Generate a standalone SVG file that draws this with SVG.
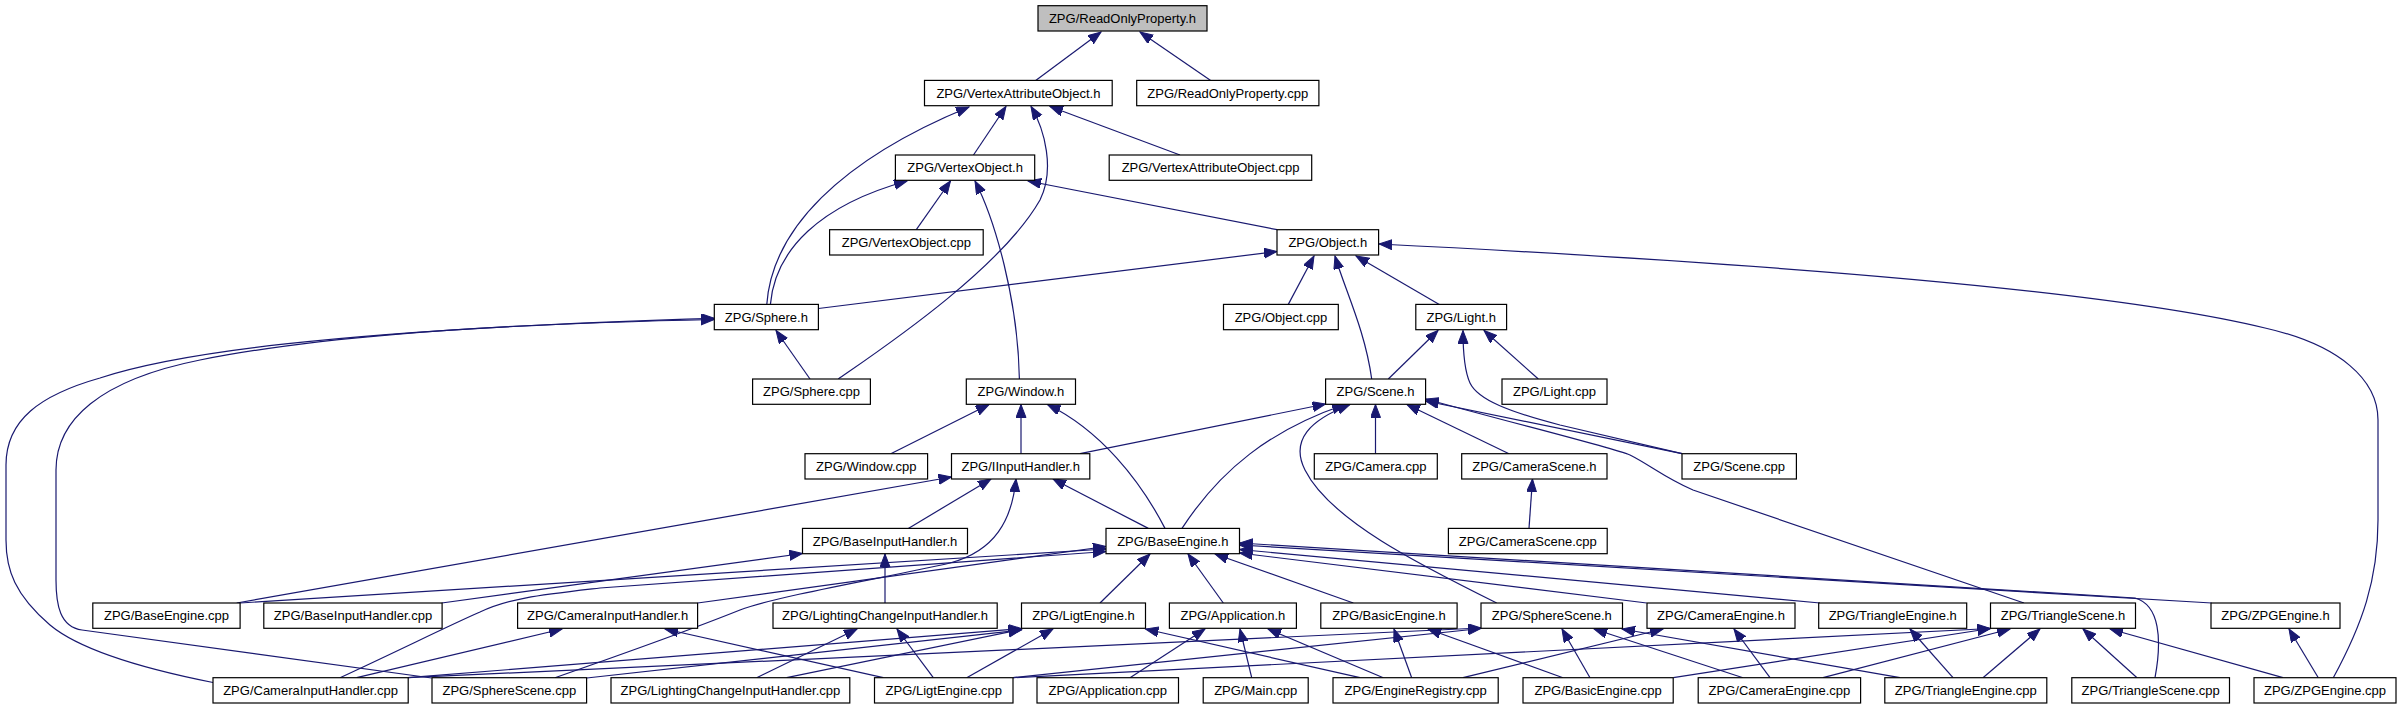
<svg xmlns="http://www.w3.org/2000/svg" width="2403" height="709" viewBox="0 0 2403 709">
<defs>
<marker id="a" markerUnits="userSpaceOnUse" markerWidth="14" markerHeight="11" refX="13" refY="5" orient="auto"><path d="M0,0 L13,5 L0,10 z" fill="#191970" stroke="#191970" stroke-width="1"/></marker>
<style>
rect{fill:#fff;stroke:#000;stroke-width:1.2}
#n_rop rect{fill:#bfbfbf}
text{font-family:"Liberation Sans",Arial,sans-serif;font-size:13px;text-anchor:middle;fill:#000}
#edges path{fill:none;stroke:#191970;stroke-width:1.2;marker-end:url(#a)}
</style>
</defs>
<rect x="0" y="0" width="2403" height="709" style="fill:#fff;stroke:none"/>
<g id="edges">
<path d="M1035.7,80.4 L1101,32"/>
<path d="M1210.7,80.4 L1140,32"/>
<path d="M973.5,155 L1006,106.5"/>
<path d="M1180,155 L1050,106.5"/>
<path d="M766.8,304.4 C772,230 840,160 969,107"/>
<path d="M838.3,379 C880,350 1000,270 1040,200 C1055,170 1045,130 1031,106.5"/>
<path d="M916.3,229.7 L950.5,181"/>
<path d="M770.4,304.4 C775,250 820,205 907,181"/>
<path d="M1019.4,379 C1018,300 995,220 975,181"/>
<path d="M1277,229.7 L1028,181"/>
<path d="M1288.3,304.4 L1314,256"/>
<path d="M1439.3,304.4 L1356,256"/>
<path d="M1371.7,379 C1365,330 1345,290 1335,256"/>
<path d="M818.4,308.5 L1277,251.5"/>
<path d="M2333.3,677.7 C2362,625 2378,580 2378,520 L2378,420 C2378,380 2340,345 2265,328 C2150,300 1900,270 1379,244"/>
<path d="M810,379 L776,330.5"/>
<path d="M213,682.5 C140,668 80,650 50,625 C15,595 6,570 6,540 L6,465 C6,420 40,395 100,378 C170,355 320,330 714.3,318.3"/>
<path d="M431.7,678 L82,630 C60,627 56,605 56,580 L56,470 C56,420 100,380 200,360 C300,340 450,325 714.3,319.5"/>
<path d="M1388.3,379 L1438,330.5"/>
<path d="M1538.3,379 L1484,330.5"/>
<path d="M1682,453.7 L1560,425 C1510,412 1478,400 1470,383 C1464,370 1463,350 1463,330.5"/>
<path d="M890.8,453.7 L989,404.5"/>
<path d="M1021,453.7 L1021,404.5"/>
<path d="M1165,528.4 C1140,480 1100,430 1047.5,404.5"/>
<path d="M1080,453.7 L1325.6,404"/>
<path d="M1182,528.4 C1220,470 1270,430 1345,404.5"/>
<path d="M1496.7,603 C1420,565 1330,520 1305,470 C1290,440 1310,420 1350,404.5"/>
<path d="M1375.5,453.7 L1375.5,404.5"/>
<path d="M1509,453.7 L1407,404.5"/>
<path d="M1682,453.7 L1425.6,401"/>
<path d="M2024,603 L1693,490 C1665,478 1650,465 1630,455 C1610,447 1520,425 1425.6,399"/>
<path d="M1529,528.4 L1532.5,479"/>
<path d="M908.3,528.4 L991,479"/>
<path d="M1148.3,528.4 L1053,479"/>
<path d="M236.7,603 L951.5,477"/>
<path d="M555,677.7 C620,655 690,630 740,610 C780,595 900,575 950,563 C995,551 1012,520 1016,479"/>
<path d="M441.7,603 L802.5,553.5"/>
<path d="M885,603 L885,554"/>
<path d="M240,603 L1106,549"/>
<path d="M340,677.7 C400,650 450,625 480,612 C510,598 540,595 600,588 L1106,551.5"/>
<path d="M697.6,603 L1106,546.5"/>
<path d="M1100,603 L1150,554"/>
<path d="M1223.3,603 L1188,554"/>
<path d="M1353.3,603 L1215,554"/>
<path d="M1646.7,603 L1239.5,553"/>
<path d="M1820,603 L1239.5,549.5"/>
<path d="M2211.7,603 L1239.5,545"/>
<path d="M2155,677.7 C2162,640 2160,605 2135,598 L1239.5,543"/>
<path d="M966.7,677.7 L1053,629"/>
<path d="M786.7,677.7 L1021.5,629.5"/>
<path d="M408,677.7 L1021.5,628.5"/>
<path d="M586.7,678 L1021.5,630"/>
<path d="M1360,677.7 L1145.5,629"/>
<path d="M356.7,677.7 L562,629"/>
<path d="M883.3,677.7 L665,629"/>
<path d="M756.7,677.7 L857,629"/>
<path d="M933.3,677.7 L897,629"/>
<path d="M1130,677.7 L1205,629"/>
<path d="M1251.7,677.7 L1240,629"/>
<path d="M1383.3,677.7 L1268,629"/>
<path d="M1411.7,677.7 L1394,629"/>
<path d="M1563,677.7 L1428,629"/>
<path d="M1590,677.7 L1562,629"/>
<path d="M1743,677.7 L1594,629"/>
<path d="M1900,677.7 L1622,629"/>
<path d="M1013,677.7 L1481,628.5"/>
<path d="M408,677.7 L1481,628"/>
<path d="M1463,677.7 L1663,629"/>
<path d="M1770,677.7 L1734,629"/>
<path d="M1953,677.7 L1910,629"/>
<path d="M1673.3,677.7 L1990.5,628.5"/>
<path d="M1013,677.7 L1990.5,628.5"/>
<path d="M1823,677.7 L2010,629"/>
<path d="M1983,677.7 L2040,629"/>
<path d="M2137,677.7 L2083,629"/>
<path d="M2283,677.7 L2110,629"/>
<path d="M2318.3,677.7 L2289,629"/>
</g>
<g id="n_rop"><rect x="1038" y="5.7" width="169" height="25.3"/><text x="1122.5" y="23">ZPG/ReadOnlyProperty.h</text></g>
<g id="n_vaoh"><rect x="924.5" y="80.4" width="187.7" height="25.3"/><text x="1018.4" y="97.7">ZPG/VertexAttributeObject.h</text></g>
<g id="n_ropcpp"><rect x="1136.7" y="80.4" width="182.2" height="25.3"/><text x="1227.8" y="97.7">ZPG/ReadOnlyProperty.cpp</text></g>
<g id="n_voh"><rect x="895.4" y="155" width="139.3" height="25.3"/><text x="965.1" y="172.3">ZPG/VertexObject.h</text></g>
<g id="n_vaocpp"><rect x="1109.2" y="155" width="202.5" height="25.3"/><text x="1210.5" y="172.3">ZPG/VertexAttributeObject.cpp</text></g>
<g id="n_vocpp"><rect x="829.6" y="229.7" width="153.6" height="25.3"/><text x="906.4" y="247">ZPG/VertexObject.cpp</text></g>
<g id="n_objh"><rect x="1277" y="229.7" width="101.6" height="25.3"/><text x="1327.8" y="247">ZPG/Object.h</text></g>
<g id="n_sphh"><rect x="714.3" y="304.4" width="104.1" height="25.3"/><text x="766.4" y="321.7">ZPG/Sphere.h</text></g>
<g id="n_objcpp"><rect x="1223.5" y="304.4" width="114.8" height="25.3"/><text x="1280.9" y="321.7">ZPG/Object.cpp</text></g>
<g id="n_lighth"><rect x="1415.8" y="304.4" width="90.8" height="25.3"/><text x="1461.2" y="321.7">ZPG/Light.h</text></g>
<g id="n_sphcpp"><rect x="752.6" y="379" width="117.8" height="25.3"/><text x="811.5" y="396.3">ZPG/Sphere.cpp</text></g>
<g id="n_winh"><rect x="966.3" y="379" width="109.2" height="25.3"/><text x="1020.9" y="396.3">ZPG/Window.h</text></g>
<g id="n_sceneh"><rect x="1325.6" y="379" width="100" height="25.3"/><text x="1375.6" y="396.3">ZPG/Scene.h</text></g>
<g id="n_lightcpp"><rect x="1502" y="379" width="105" height="25.3"/><text x="1554.5" y="396.3">ZPG/Light.cpp</text></g>
<g id="n_wincpp"><rect x="805" y="453.7" width="122.6" height="25.3"/><text x="866.3" y="471">ZPG/Window.cpp</text></g>
<g id="n_iih"><rect x="951.5" y="453.7" width="138.3" height="25.3"/><text x="1020.7" y="471">ZPG/IInputHandler.h</text></g>
<g id="n_camcpp"><rect x="1314.3" y="453.7" width="123" height="25.3"/><text x="1375.8" y="471">ZPG/Camera.cpp</text></g>
<g id="n_camsceneh"><rect x="1461.7" y="453.7" width="145.3" height="25.3"/><text x="1534.4" y="471">ZPG/CameraScene.h</text></g>
<g id="n_scenecpp"><rect x="1682" y="453.7" width="114.4" height="25.3"/><text x="1739.2" y="471">ZPG/Scene.cpp</text></g>
<g id="n_bihh"><rect x="802.5" y="528.4" width="165" height="25.3"/><text x="885" y="545.7">ZPG/BaseInputHandler.h</text></g>
<g id="n_beh"><rect x="1106" y="528.4" width="133.5" height="25.3"/><text x="1172.8" y="545.7">ZPG/BaseEngine.h</text></g>
<g id="n_camscenecpp"><rect x="1448.4" y="528.4" width="158.8" height="25.3"/><text x="1527.8" y="545.7">ZPG/CameraScene.cpp</text></g>
<g id="n_becpp"><rect x="92.8" y="603" width="147.3" height="25.3"/><text x="166.5" y="620.3">ZPG/BaseEngine.cpp</text></g>
<g id="n_bihcpp"><rect x="263.8" y="603" width="178.3" height="25.3"/><text x="353" y="620.3">ZPG/BaseInputHandler.cpp</text></g>
<g id="n_cihh"><rect x="517.6" y="603" width="180" height="25.3"/><text x="607.6" y="620.3">ZPG/CameraInputHandler.h</text></g>
<g id="n_lcihh"><rect x="773" y="603" width="224.2" height="25.3"/><text x="885.1" y="620.3">ZPG/LightingChangeInputHandler.h</text></g>
<g id="n_ligth"><rect x="1021.5" y="603" width="124" height="25.3"/><text x="1083.5" y="620.3">ZPG/LigtEngine.h</text></g>
<g id="n_apph"><rect x="1169.4" y="603" width="127" height="25.3"/><text x="1232.9" y="620.3">ZPG/Application.h</text></g>
<g id="n_basich"><rect x="1320.8" y="603" width="136.3" height="25.3"/><text x="1389" y="620.3">ZPG/BasicEngine.h</text></g>
<g id="n_sphsceneh"><rect x="1481" y="603" width="141.5" height="25.3"/><text x="1551.8" y="620.3">ZPG/SphereScene.h</text></g>
<g id="n_camengh"><rect x="1647" y="603" width="148" height="25.3"/><text x="1721" y="620.3">ZPG/CameraEngine.h</text></g>
<g id="n_triengh"><rect x="1818.7" y="603" width="148" height="25.3"/><text x="1892.7" y="620.3">ZPG/TriangleEngine.h</text></g>
<g id="n_trisceneh"><rect x="1990.5" y="603" width="145" height="25.3"/><text x="2063" y="620.3">ZPG/TriangleScene.h</text></g>
<g id="n_zpgh"><rect x="2211" y="603" width="129" height="25.3"/><text x="2275.5" y="620.3">ZPG/ZPGEngine.h</text></g>
<g id="n_cihcpp"><rect x="213" y="677.7" width="195.2" height="25.3"/><text x="310.6" y="695">ZPG/CameraInputHandler.cpp</text></g>
<g id="n_sphscenecpp"><rect x="432" y="677.7" width="154.6" height="25.3"/><text x="509.3" y="695">ZPG/SphereScene.cpp</text></g>
<g id="n_lcihcpp"><rect x="611" y="677.7" width="238.8" height="25.3"/><text x="730.4" y="695">ZPG/LightingChangeInputHandler.cpp</text></g>
<g id="n_ligtcpp"><rect x="874.5" y="677.7" width="138.5" height="25.3"/><text x="943.8" y="695">ZPG/LigtEngine.cpp</text></g>
<g id="n_appcpp"><rect x="1037" y="677.7" width="141.5" height="25.3"/><text x="1107.8" y="695">ZPG/Application.cpp</text></g>
<g id="n_maincpp"><rect x="1203.2" y="677.7" width="105" height="25.3"/><text x="1255.7" y="695">ZPG/Main.cpp</text></g>
<g id="n_engregcpp"><rect x="1333" y="677.7" width="165.2" height="25.3"/><text x="1415.6" y="695">ZPG/EngineRegistry.cpp</text></g>
<g id="n_basiccpp"><rect x="1523" y="677.7" width="150.2" height="25.3"/><text x="1598.1" y="695">ZPG/BasicEngine.cpp</text></g>
<g id="n_camengcpp"><rect x="1698.2" y="677.7" width="162.4" height="25.3"/><text x="1779.4" y="695">ZPG/CameraEngine.cpp</text></g>
<g id="n_triengcpp"><rect x="1884.8" y="677.7" width="162" height="25.3"/><text x="1965.8" y="695">ZPG/TriangleEngine.cpp</text></g>
<g id="n_triscenecpp"><rect x="2071.8" y="677.7" width="157.7" height="25.3"/><text x="2150.7" y="695">ZPG/TriangleScene.cpp</text></g>
<g id="n_zpgcpp"><rect x="2254" y="677.7" width="142" height="25.3"/><text x="2325" y="695">ZPG/ZPGEngine.cpp</text></g>
</svg>
